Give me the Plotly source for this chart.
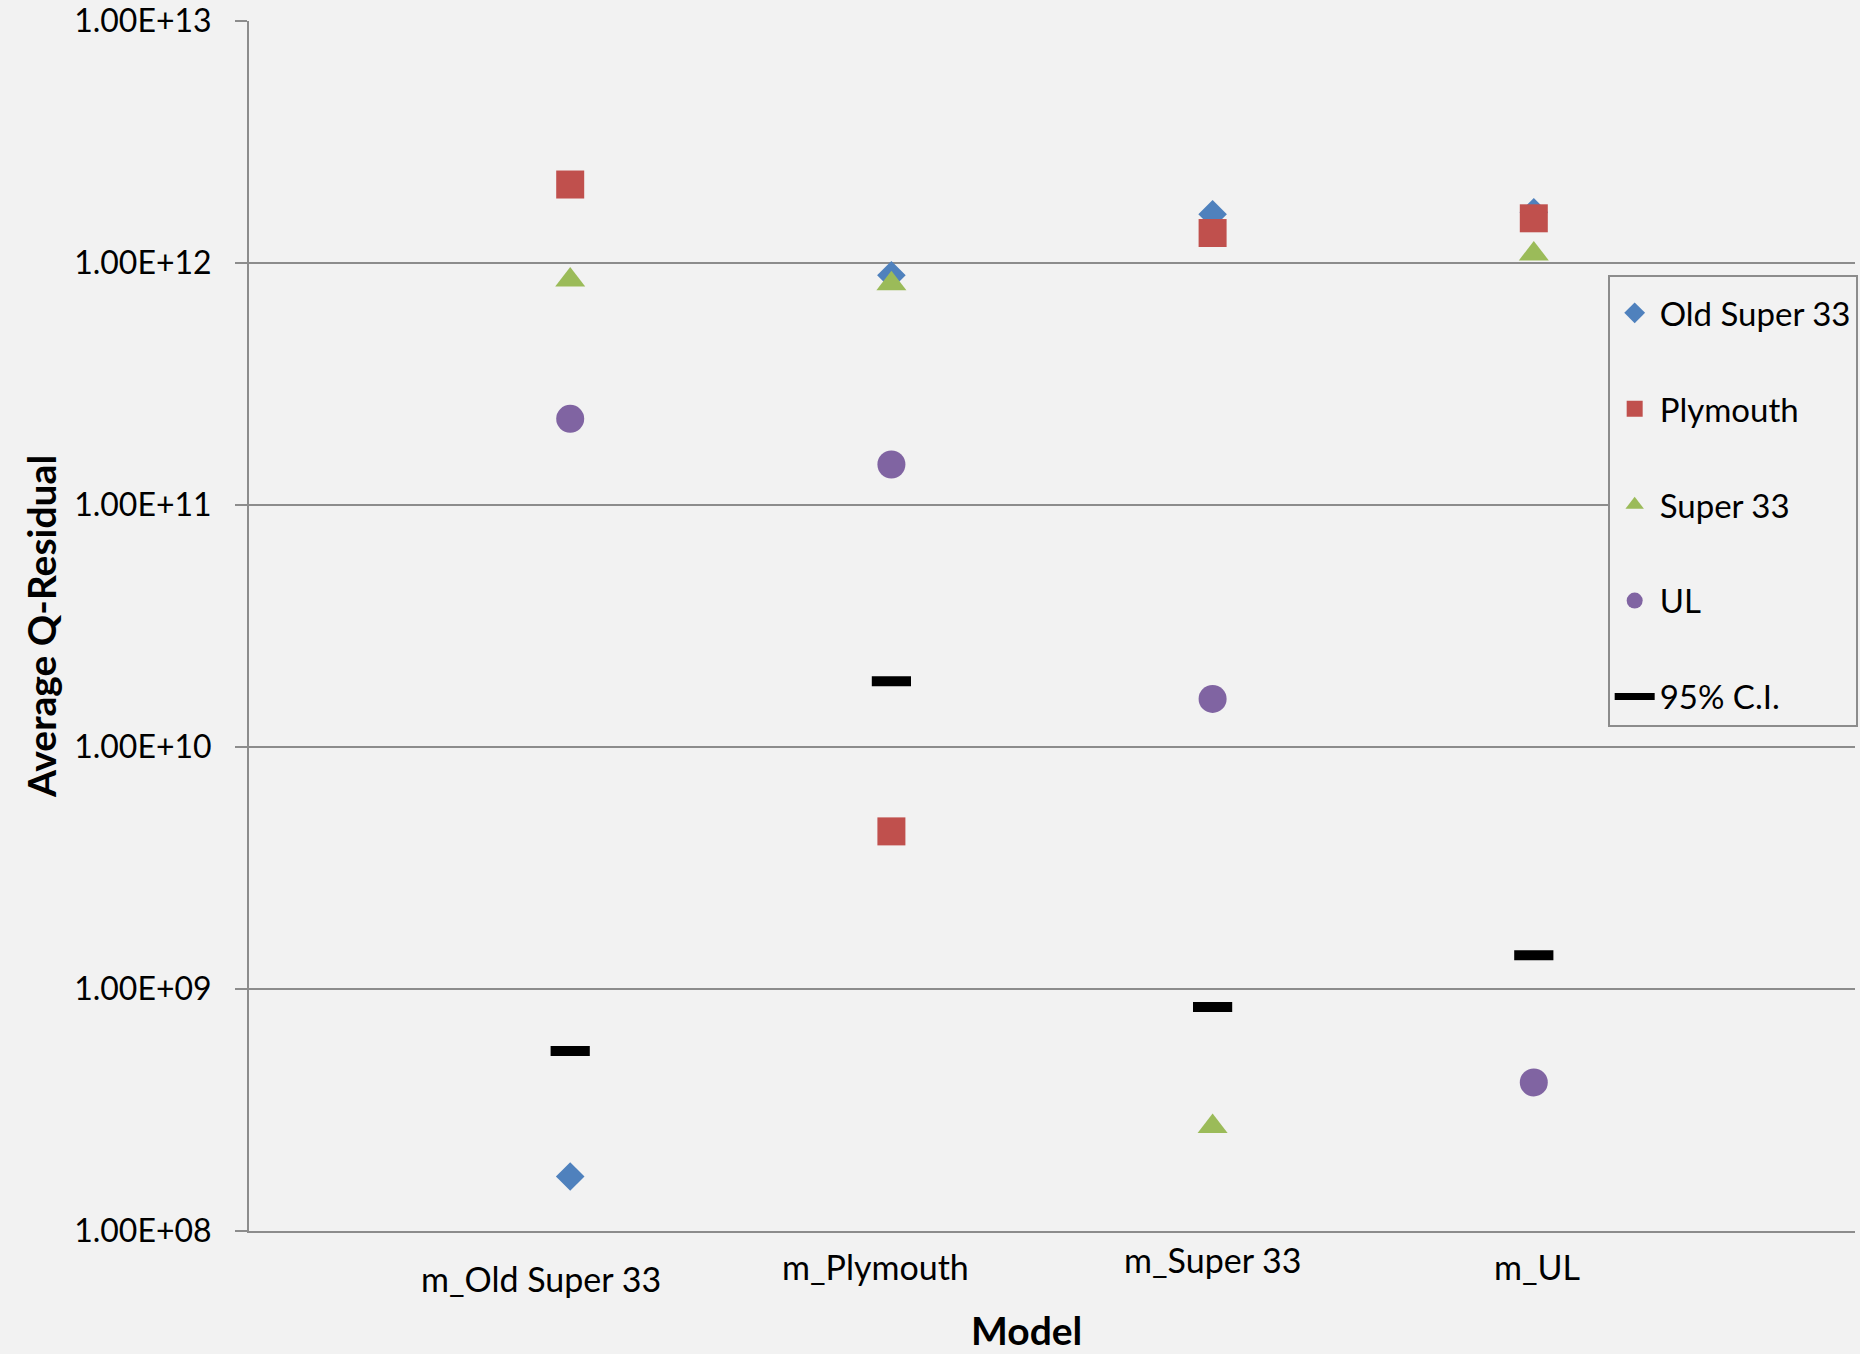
import plotly.graph_objects as go

# ---- data ----
models = ["m_Old Super 33", "m_Plymouth", "m_Super 33", "m_UL"]
model_pos = [1, 2, 3, 4]
old_super_33 = [1.68e8, 8.9e11, 1.59e12, 1.62e12]
plymouth = [2.11e12, 4.48e9, 1.33e12, 1.53e12]
super_33 = [8.5e11, 8.2e11, 2.70e8, 1.09e12]
ul = [2.27e11, 1.47e11, 1.58e10, 4.11e8]
ci95 = [5.54e8, 1.87e10, 8.43e8, 1.38e9]
y_tickvals = [1e8, 1e9, 1e10, 1e11, 1e12, 1e13]
y_ticktext = ["1.00E+08", "1.00E+09", "1.00E+10", "1.00E+11", "1.00E+12", "1.00E+13"]

# ---- styles ----
label_dx = [-29, -16, 0, 3]
label_dy = [-47, -35, -28, -35]
BG = "#f2f2f2"
GRID = "#8c8c8c"
FONT = "Lato"

fig = go.Figure()
series = [
    ("Old Super 33", old_super_33, "diamond", "#4f81bd", 22),
    ("Plymouth", plymouth, "square", "#c0504d", 28),
    ("Super 33", super_33, "triangle-up", "#9bbb59", 26),
    ("UL", ul, "circle", "#8064a2", 28),
]
for name, vals, sym, col, sz in series:
    fig.add_trace(go.Scatter(
        x=model_pos, y=vals, mode="markers", name=name, legendgroup=name,
        marker=dict(symbol=sym, color=col, size=sz, line=dict(width=0)),
    ))

fig.add_trace(go.Scatter(
    x=model_pos, y=ci95, mode="markers", name="95% C.I.", legendgroup="ci",
    showlegend=False,
    marker=dict(symbol="line-ew", size=28, color="black", line=dict(color="black", width=10)),
))
# legend entry for the C.I. marks
fig.add_trace(go.Scatter(
    x=[None], y=[None], mode="lines", name="95% C.I.", legendgroup="ci",
    line=dict(color="black", width=7),
))

for i, m in enumerate(models):
    fig.add_annotation(
        x=model_pos[i], y=0, xref="x", yref="paper", text=m, showarrow=False,
        xanchor="center", yanchor="middle", xshift=label_dx[i], yshift=label_dy[i],
        font=dict(family=FONT, size=34, color="black"),
    )

# x-axis title (placed left of centre, as in the reference)
fig.add_annotation(
    x=0.4844, y=0, xref="paper", yref="paper", text="<b>Model</b>", showarrow=False,
    xanchor="center", yanchor="middle", yshift=-99,
    font=dict(family=FONT, size=39, color="black"),
)

fig.update_layout(
    width=1860, height=1354,
    paper_bgcolor=BG, plot_bgcolor=BG,
    margin=dict(l=249, r=5, t=21, b=123, autoexpand=False),
    font=dict(family=FONT, color="black"),
    showlegend=True,
    legend=dict(
        x=0.846, y=0.79, xanchor="left", yanchor="top",
        bgcolor=BG, bordercolor=GRID, borderwidth=2,
        font=dict(family=FONT, size=33, color="black"),
        tracegroupgap=50, itemwidth=40,
        title=dict(text=" ", font=dict(size=6)),
    ),
    xaxis=dict(
        range=[0, 5], showgrid=False, zeroline=False,
        showticklabels=False, ticks="",
        showline=True, linecolor=GRID, linewidth=2,
    ),
    yaxis=dict(
        type="log", range=[8, 13],
        tickvals=y_tickvals, ticktext=y_ticktext,
        showgrid=True, gridcolor=GRID, gridwidth=2,
        showline=True, linecolor=GRID, linewidth=2,
        ticks="outside", ticklen=12, tickwidth=2, tickcolor=GRID,
        ticklabelstandoff=17,
        tickfont=dict(family=FONT, size=32, color="black"),
        zeroline=False,
        title=dict(text="<b>Average Q-Residual</b>", font=dict(family=FONT, size=39, color="black"), standoff=6),
    ),
)

fig.write_html(
    "out.html",
    config={"displayModeBar": False},
    post_script="document.body.style.margin='0';document.body.style.overflow='hidden';",
)
